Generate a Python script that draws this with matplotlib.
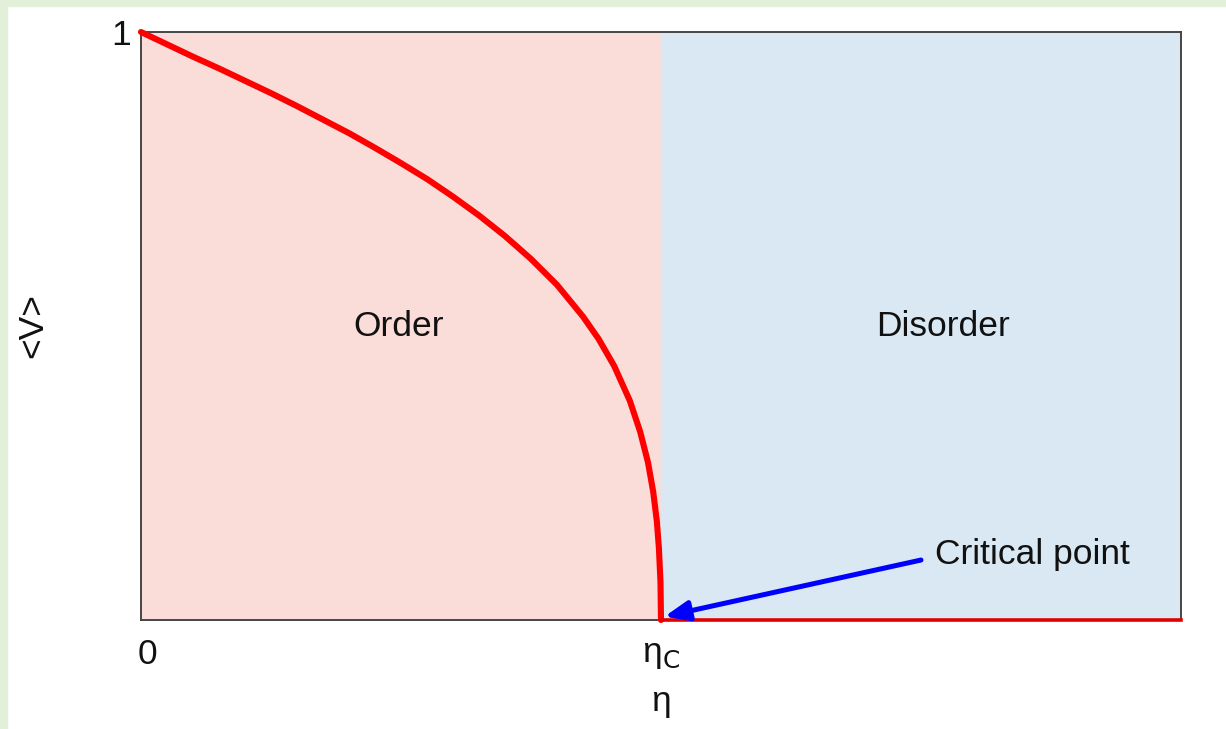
import matplotlib
matplotlib.use("Agg")
import matplotlib.pyplot as plt
from matplotlib.patches import Rectangle

# order parameter curve (eta, <V>)
eta_order = [0.0, 0.05, 0.10, 0.15, 0.20, 0.25, 0.30, 0.35, 0.40, 0.45,
             0.50, 0.55, 0.60, 0.65, 0.70, 0.75, 0.80, 0.85, 0.88, 0.91,
             0.94, 0.96, 0.975, 0.985, 0.992, 0.996, 0.999, 1.0]
v_order = [1.0, 0.979, 0.958, 0.938, 0.917, 0.896, 0.874, 0.851, 0.828,
           0.803, 0.777, 0.750, 0.720, 0.688, 0.653, 0.614, 0.570, 0.516,
           0.478, 0.432, 0.373, 0.320, 0.268, 0.218, 0.168, 0.122, 0.065, 0.0]
eta_disorder = [1.0, 2.0]
v_disorder = [0.0, 0.0]

eta_c = 1.0
eta_max = 2.0
arrow_from = (1.50, 0.102)
arrow_to = (1.007, 0.006)

plt.rcParams['font.family'] = ['Liberation Sans', 'DejaVu Sans']
plt.rcParams['mathtext.fontset'] = 'dejavusans'

FS = 25.5

fig = plt.figure(figsize=(12.26, 7.29), dpi=100)
fig.patch.set_facecolor('white')
# light green frame strips at top and left
fig.patches.append(Rectangle((0, 1 - 6 / 729), 1, 6 / 729, transform=fig.transFigure,
                             color='#e2efd9', zorder=0))
fig.patches.append(Rectangle((0, 0), 7 / 1226, 1, transform=fig.transFigure,
                             color='#e2efd9', zorder=0))

ax = fig.add_axes([141 / 1226, 1 - 620 / 729, 1040 / 1226, 588 / 729])

# phase regions
ax.axvspan(0, eta_c, color='#fadcd9', zorder=0)
ax.axvspan(eta_c, eta_max, color='#d9e8f2', zorder=0)

ax.plot(eta_order, v_order, color='#ff0000', lw=4.4, solid_capstyle='round',
        solid_joinstyle='round', clip_on=False, zorder=3)
ax.plot(eta_disorder, v_disorder, color='#e00000', lw=2.6, clip_on=False, zorder=3)

ax.annotate('', xy=arrow_to, xytext=arrow_from,
            arrowprops=dict(arrowstyle='-|>,head_length=0.6,head_width=0.25',
                            color='#0000ff', lw=3.6,
                            mutation_scale=24, shrinkA=0, shrinkB=0),
            zorder=4)

ax.text(0.495, 0.50, 'Order', fontsize=FS, ha='center', va='center', color='#111111')
ax.text(1.543, 0.50, 'Disorder', fontsize=FS, ha='center', va='center', color='#111111')
ax.text(1.526, 0.111, 'Critical point', fontsize=FS, ha='left', va='center', color='#111111')

ax.set_xlim(0, eta_max)
ax.set_ylim(0, 1)
ax.set_xticks([0.012, eta_c])
ax.set_xticklabels(['0', r'η$_{\mathrm{C}}$'], fontsize=FS)
ax.set_yticks([1])
ax.set_yticklabels(['1'], fontsize=FS)
ax.tick_params(axis='x', length=0, pad=13, colors='#111111')
ax.tick_params(axis='y', length=0, pad=7, colors='#111111')
ax.set_xlabel('η', fontsize=FS, labelpad=10, color='#111111')
fig.text(33 / 1226, 1 - 326 / 729, '<V>', rotation=90, fontsize=FS,
         ha='center', va='center', color='#111111')

for s in ax.spines.values():
    s.set_color('#454545')
    s.set_linewidth(1.4)

fig.savefig('out.png', dpi=100)
